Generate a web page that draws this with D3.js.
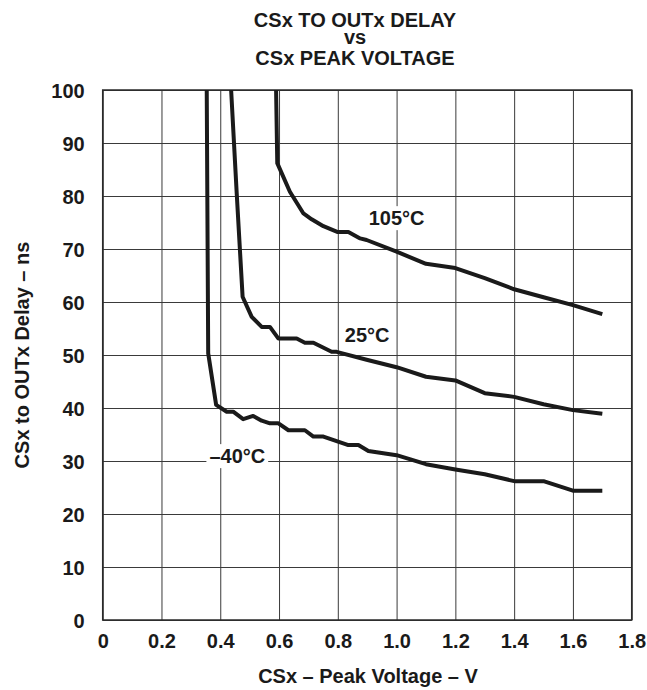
<!DOCTYPE html>
<html>
<head>
<meta charset="utf-8">
<script src="https://cdn.jsdelivr.net/npm/d3@7"></script>
<style>
  body { margin: 0; background: #fff; }
  text { font-family: "Liberation Sans", Arial, sans-serif; font-weight: bold; fill: #1a1a1a; }
</style>
</head>
<body>
<svg width="647" height="690"></svg>
<script>
// tick labels
var xTicks = [0, 0.2, 0.4, 0.6, 0.8, 1.0, 1.2, 1.4, 1.6, 1.8];
var xTickLabels = ["0", "0.2", "0.4", "0.6", "0.8", "1.0", "1.2", "1.4", "1.6", "1.8"];
var yTicks = [0, 10, 20, 30, 40, 50, 60, 70, 80, 90, 100];

// -40°C
var voltsM40 = [0.354, 0.358, 0.359, 0.386, 0.422, 0.444, 0.478, 0.512, 0.541, 0.569, 0.598, 0.632, 0.688, 0.717, 0.751, 0.836, 0.87, 0.904, 1.0, 1.10, 1.20, 1.30, 1.40, 1.50, 1.60, 1.70];
var delayM40 = [100, 60, 50.3, 40.6, 39.3, 39.3, 37.9, 38.5, 37.6, 37.1, 37.1, 35.8, 35.8, 34.6, 34.6, 33.0, 33.0, 31.9, 31.1, 29.4, 28.4, 27.5, 26.2, 26.2, 24.4, 24.4];

// 25°C
var volts25 = [0.437, 0.456, 0.476, 0.507, 0.541, 0.569, 0.598, 0.66, 0.688, 0.717, 0.779, 0.796, 0.898, 1.0, 1.10, 1.20, 1.30, 1.40, 1.50, 1.60, 1.70];
var delay25 = [100, 80.5, 61, 57.2, 55.3, 55.3, 53.1, 53.1, 52.3, 52.3, 50.6, 50.6, 49.1, 47.7, 45.9, 45.2, 42.8, 42.1, 40.7, 39.6, 38.9];

// 105°C
var volts105 = [0.590, 0.594, 0.637, 0.683, 0.711, 0.751, 0.80, 0.836, 0.876, 0.898, 1.0, 1.10, 1.20, 1.30, 1.40, 1.50, 1.60, 1.70];
var delay105 = [100, 86.2, 80.8, 76.7, 75.6, 74.3, 73.2, 73.2, 72.0, 71.7, 69.5, 67.2, 66.4, 64.5, 62.4, 60.9, 59.4, 57.7];

// curve labels
var labelNames = ["105°C", "25°C", "\u201340°C"];
var labelX = [1.0, 0.90, 0.458];
var labelY = [74.5, 52.4, 29.6];

var svg = d3.select("svg"),
    margin = {top: 90, right: 15.3, bottom: 70, left: 102.7},
    width = +svg.attr("width") - margin.left - margin.right,
    height = +svg.attr("height") - margin.top - margin.bottom;

var x = d3.scaleLinear().domain([0, 1.8]).range([0, width]);
var y = d3.scaleLinear().domain([0, 100]).range([height, 0]);

var g = svg.append("g")
    .attr("transform", "translate(" + margin.left + "," + margin.top + ")");

// grid via axes
var gx = g.append("g")
    .attr("class", "x axis")
    .attr("transform", "translate(0," + height + ")")
    .call(d3.axisBottom(x).tickValues(xTicks).tickFormat(function (d, i) {
        return xTickLabels[i];
    }).tickSizeInner(-height).tickSizeOuter(0).tickPadding(14));

var gy = g.append("g")
    .attr("class", "y axis")
    .call(d3.axisLeft(y).tickValues(yTicks).tickSizeInner(-width).tickSizeOuter(0).tickPadding(18));

svg.selectAll(".axis .domain").remove();
svg.selectAll(".axis line").attr("stroke", "#3a3a3a").attr("stroke-width", 1);
svg.selectAll(".axis text").style("font-size", "20px").attr("fill", "#1a1a1a");
gy.selectAll("text").attr("dy", "0.36em");

g.append("rect")
    .attr("width", width)
    .attr("height", height)
    .attr("fill", "none")
    .attr("stroke", "#2a2a2a")
    .attr("stroke-width", 1.5);

// curves
var line = d3.line()
    .x(function (d) { return x(d[0]); })
    .y(function (d) { return y(d[1]); });

var series = [
    d3.zip(voltsM40, delayM40),
    d3.zip(volts25, delay25),
    d3.zip(volts105, delay105)
];

g.selectAll(".curve")
    .data(series)
    .enter().append("path")
    .attr("class", "curve")
    .attr("d", line)
    .attr("fill", "none")
    .attr("stroke", "#1a1a1a")
    .attr("stroke-width", 4)
    .attr("stroke-linejoin", "round");

// curve labels with white backing
labelNames.forEach(function (name, i) {
    var lg = g.append("g");
    var t = lg.append("text")
        .attr("x", x(labelX[i]))
        .attr("y", y(labelY[i]))
        .attr("text-anchor", "middle")
        .style("font-size", "20px")
        .text(name);
    var bb = t.node().getBBox();
    lg.insert("rect", "text")
        .attr("x", bb.x - 3)
        .attr("y", bb.y - 1)
        .attr("width", bb.width + 6)
        .attr("height", bb.height + 2)
        .attr("fill", "#fff");
});

// title, one text block
var titleLines = ["CSx TO OUTx DELAY", "vs", "CSx PEAK VOLTAGE"];
var titleBase = [26.5, 43.5, 64.5];
svg.append("text")
    .attr("class", "title")
    .attr("text-anchor", "middle")
    .style("font-size", "20px")
    .selectAll("tspan")
    .data(titleLines)
    .enter().append("tspan")
    .attr("x", 355)
    .attr("y", function (d, i) { return titleBase[i]; })
    .text(function (d) { return d; });

svg.append("text")
    .attr("x", 368)
    .attr("y", 683)
    .attr("text-anchor", "middle")
    .style("font-size", "20px")
    .text("CSx \u2013 Peak Voltage \u2013 V");

svg.append("text")
    .attr("transform", "translate(29," + (margin.top + height / 2) + ") rotate(-90)")
    .attr("text-anchor", "middle")
    .style("font-size", "20px")
    .text("CSx to OUTx Delay \u2013 ns");
</script>
</body>
</html>
